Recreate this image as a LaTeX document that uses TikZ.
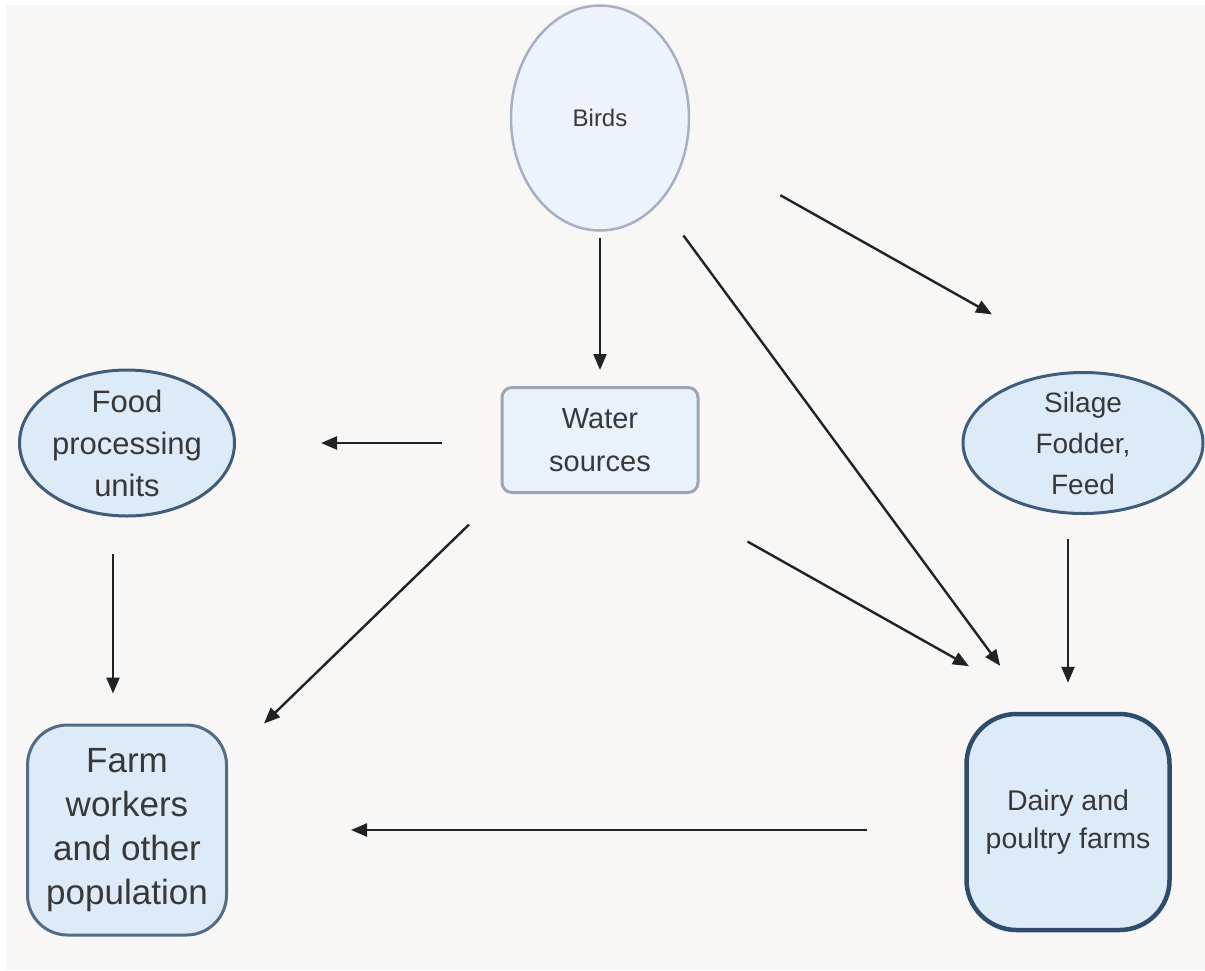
\documentclass[tikz,border=0pt]{standalone}
\usepackage{fontspec}
\setmainfont{Liberation Sans}
\usetikzlibrary{shapes.geometric,arrows.meta}
\definecolor{bg}{HTML}{F8F7F5}
\definecolor{txt}{HTML}{383838}
\definecolor{birdfill}{HTML}{EEF3FB}
\definecolor{birdline}{HTML}{A7B0C3}
\definecolor{waterfill}{HTML}{E9F1FB}
\definecolor{waterline}{HTML}{9BA5B3}
\definecolor{nodefill}{HTML}{DDEAF8}
\definecolor{nodeline}{HTML}{3F5C7A}
\definecolor{dairyline}{HTML}{2E4D6D}
\definecolor{arrowcol}{HTML}{222222}
\begin{document}
\begin{tikzpicture}[x=1pt,y=-1pt,
  lbl/.style={text=txt, align=center, inner sep=0pt},
  oval/.style={ellipse, draw=nodeline, fill=nodefill, line width=3pt, inner sep=0pt},
  rbox/.style={rectangle, draw=nodeline, fill=nodefill, line width=3pt, inner sep=0pt, text=txt, align=center},
  arr/.style={-{Triangle[length=16pt,width=13pt]}, line width=2.4pt, draw=arrowcol}
]
\useasboundingbox (0,0) rectangle (1205,970);
\fill[bg] (6,5) rectangle (1205,970);

% nodes
\node[ellipse, draw=birdline, fill=birdfill, line width=2.5pt, inner sep=0pt,
      minimum width=178pt, minimum height=225pt,
      label={[lbl, font=\fontsize{24}{28}\selectfont]center:Birds}] (birds) at (600,118) {};

\node[rectangle, rounded corners=10pt, draw=waterline, fill=waterfill, line width=3pt, inner sep=0pt,
      minimum width=196pt, minimum height=105pt, text=txt, align=center,
      font=\fontsize{29}{43}\selectfont] (water) at (600,440) {Water\\sources};

\node[oval, minimum width=215pt, minimum height=146pt,
      label={[lbl, font=\fontsize{31}{42}\selectfont]center:Food\\processing\\units}] (food) at (127,443) {};

\node[oval, minimum width=240pt, minimum height=141pt,
      label={[lbl, font=\fontsize{28}{41}\selectfont]center:Silage\\Fodder,\\Feed}] (silage) at (1083,443) {};

\node[rbox, rounded corners=40pt, minimum width=199pt, minimum height=210pt,
      draw=nodeline!90!white, font=\fontsize{35}{44}\selectfont] (farm) at (127,830) {Farm\\workers\\and other\\population};

\node[rbox, rounded corners=50pt, minimum width=203pt, minimum height=216pt,
      draw=dairyline, line width=4.5pt, font=\fontsize{28.5}{38}\selectfont] (dairy) at (1068,822) {Dairy and\\poultry farms};

% connectors
\draw[arr, shorten <=6.5pt, shorten >=16pt] (birds.south) -- (water.north);
\draw[arr, shorten <=40pt, shorten >=57pt] (birds.-55.7) -- ([xshift=-34pt]dairy.north);
\draw[arr, shorten <=106pt, shorten >=116pt] (birds.-16.2) -- (silage.82.1);
\draw[arr, shorten <=59pt, shorten >=85pt] (water.west |- food.east) -- (food.east);
\draw[arr, shorten <=44pt, shorten >=0pt] (water.south west) -- ([xshift=36pt]farm.north east);
\draw[arr, shorten <=97pt, shorten >=93pt] ([xshift=63pt]water.south) -- ([xshift=-18pt]dairy.north);
\draw[arr, shorten <=23.5pt, shorten >=29pt] (silage.south -| dairy.north) -- (dairy.north);
\draw[arr, shorten <=36pt, shorten >=30pt] ([xshift=-14pt]food.south) -- ([xshift=-14pt]farm.north);
\draw[arr, shorten <=97pt, shorten >=123pt] (dairy.west |- farm.east) -- (farm.east);
\end{tikzpicture}
\end{document}
